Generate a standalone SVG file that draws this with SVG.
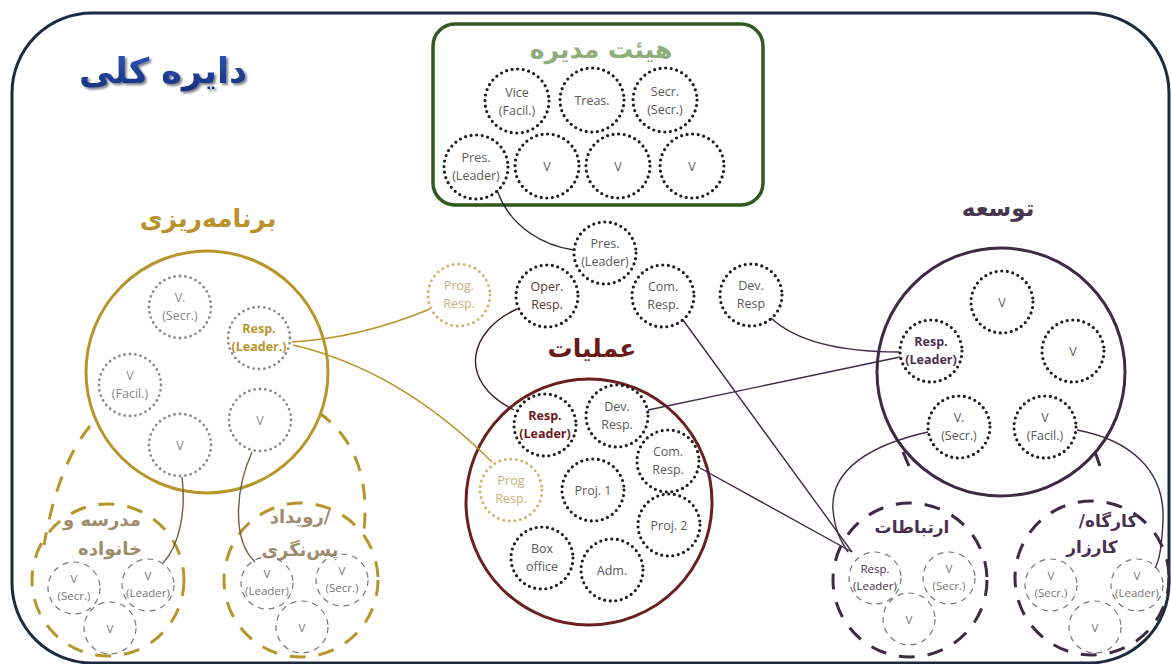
<svg xmlns="http://www.w3.org/2000/svg" width="1171" height="664" viewBox="0 0 1171 664">
<defs>
<filter id="sh" x="-10%" y="-10%" width="130%" height="140%"><feDropShadow dx="2" dy="2" stdDeviation="1.2" flood-color="#0a1530" flood-opacity="0.55"/></filter>
<linearGradient id="bl" x1="0" y1="0" x2="0" y2="1"><stop offset="0" stop-color="#2d55b8"/><stop offset="1" stop-color="#16307a"/></linearGradient>
</defs>
<style>
.fa{font-family:"DejaVu Sans",sans-serif;font-weight:bold;text-anchor:middle}
.lb{font-family:"Open Sans","Liberation Sans",sans-serif;font-size:12.5px;fill:#5a5a5a;text-anchor:middle}
.sl{font-family:"Open Sans","Liberation Sans",sans-serif;font-size:11.5px;fill:#777;text-anchor:middle}
.dot{fill:none;stroke:#1e1e1e;stroke-width:3.2;stroke-dasharray:0 5.6;stroke-linecap:round}
.dotg{fill:none;stroke:#8a8a8a;stroke-width:2.8;stroke-dasharray:0 5.4;stroke-linecap:round}
.doty{fill:none;stroke:#c9b66a;stroke-width:3;stroke-dasharray:0 5.6;stroke-linecap:round}
.sub{fill:none;stroke:#777;stroke-width:1.2;stroke-dasharray:6 5}
.dg{fill:none;stroke:#b8952a;stroke-width:3;stroke-dasharray:16 13}
.dp{fill:none;stroke:#3f2a44;stroke-width:3;stroke-dasharray:16 13}
.cn{fill:none;stroke-width:1.4}
</style>
<rect id="frame" x="12" y="13" width="1157" height="650" rx="80" ry="80" fill="#fff" stroke="#1c2b3f" stroke-width="3"/>
<text id="title" class="fa" x="163" y="83" font-size="35" fill="url(#bl)" filter="url(#sh)">دایره کلی</text>

<g id="board">
<rect x="433" y="24" width="330" height="181" rx="22" fill="#fff" stroke="#2f5a1f" stroke-width="3.5"/>
<text class="fa" x="601" y="58" font-size="25" fill="#8db07a">هیئت مدیره</text>
<circle class="dot" cx="517" cy="101" r="32"/><text class="lb" x="517" y="97">Vice</text><text class="lb" x="517" y="115">(Facil.)</text>
<circle class="dot" cx="592" cy="100" r="32"/><text class="lb" x="592" y="105">Treas.</text>
<circle class="dot" cx="665" cy="100" r="32"/><text class="lb" x="665" y="96">Secr.</text><text class="lb" x="665" y="114">(Secr.)</text>
<circle class="dot" cx="476" cy="167" r="32"/><text class="lb" x="476" y="162">Pres.</text><text class="lb" x="476" y="180">(Leader)</text>
<circle class="dot" cx="547" cy="166" r="32"/><text class="lb" x="547" y="171">V</text>
<circle class="dot" cx="618" cy="166" r="32"/><text class="lb" x="618" y="171">V</text>
<circle class="dot" cx="692" cy="166" r="32"/><text class="lb" x="692" y="171">V</text>
</g>

<g id="center-links">
<circle class="dot" cx="605" cy="253" r="31"/><text class="lb" x="605" y="248">Pres.</text><text class="lb" x="605" y="266">(Leader)</text>
<circle class="doty" cx="459" cy="295" r="31"/><text class="lb" x="459" y="290" style="fill:#c4b378">Prog.</text><text class="lb" x="459" y="308" style="fill:#c4b378">Resp.</text>
<circle class="dot" cx="547" cy="296" r="31"/><text class="lb" x="547" y="291" style="fill:#5a3a3a">Oper.</text><text class="lb" x="547" y="309" style="fill:#5a3a3a">Resp.</text>
<circle class="dot" cx="663" cy="296" r="31"/><text class="lb" x="663" y="291">Com.</text><text class="lb" x="663" y="309">Resp.</text>
<circle class="dot" cx="751" cy="295" r="31"/><text class="lb" x="751" y="290">Dev.</text><text class="lb" x="751" y="308">Resp</text>
</g>

<g id="planning-subs">
<circle class="dg" cx="108" cy="580" r="76"/>
<path class="dg" d="M90,426 Q58,465 44,545"/>
<text class="fa" x="102" y="526" font-size="18" fill="#9c8c6c">مدرسه و</text>
<text class="fa" x="110" y="555" font-size="18" fill="#9c8c6c">خانواده</text>
<circle class="sub" cx="74" cy="588" r="26"/><text class="sl" x="74" y="583">V</text><text class="sl" x="74" y="600">(Secr.)</text>
<circle class="sub" cx="148" cy="585" r="26"/><text class="sl" x="148" y="580">V</text><text class="sl" x="148" y="597">(Leader)</text>
<circle class="sub" cx="110" cy="628" r="26"/><text class="sl" x="110" y="633">V</text>
<circle class="dg" cx="301" cy="580" r="77"/>
<path class="dg" d="M318,412 Q372,450 364,530"/>
<text class="fa" x="300" y="523" font-size="18" fill="#9c8c6c">رویداد/</text>
<text class="fa" x="300" y="556" font-size="18" fill="#9c8c6c">پس‌نگری</text>
<circle class="sub" cx="267" cy="583" r="26"/><text class="sl" x="267" y="578">V</text><text class="sl" x="267" y="595">(Leader)</text>
<circle class="sub" cx="342" cy="580" r="26"/><text class="sl" x="342" y="575">V</text><text class="sl" x="342" y="592">(Secr.)</text>
<circle class="sub" cx="302" cy="627" r="26"/><text class="sl" x="302" y="632">V</text>
</g>

<g id="planning">
<circle cx="207" cy="372" r="121" fill="#fff" stroke="#b8952a" stroke-width="3"/>
<text class="fa" x="208" y="227" font-size="25" fill="#b8912a">برنامه‌ریزی</text>
<circle class="dotg" cx="180" cy="307" r="31"/><text class="lb" x="180" y="302" style="fill:#8a8a8a">V.</text><text class="lb" x="180" y="320" style="fill:#8a8a8a">(Secr.)</text>
<circle class="dotg" cx="259" cy="338" r="31"/><text class="lb" x="259" y="333" style="fill:#b8952a;font-weight:bold">Resp.</text><text class="lb" x="259" y="351" style="fill:#b8952a;font-weight:bold">(Leader.)</text>
<circle class="dotg" cx="130" cy="385" r="31"/><text class="lb" x="130" y="380" style="fill:#8a8a8a">V</text><text class="lb" x="130" y="398" style="fill:#8a8a8a">(Facil.)</text>
<circle class="dotg" cx="260" cy="420" r="31"/><text class="lb" x="260" y="425" style="fill:#8a8a8a">V</text>
<circle class="dotg" cx="180" cy="445" r="31"/><text class="lb" x="180" y="450" style="fill:#8a8a8a">V</text>
</g>

<g id="operations">
<circle cx="589" cy="502" r="123" fill="#fff" stroke="#6b1f1f" stroke-width="3"/>
<text class="fa" x="592" y="357" font-size="25" fill="#6b1a1a">عملیات</text>
<circle class="dot" cx="545" cy="425" r="31"/><text class="lb" x="545" y="420" style="fill:#6b1a1a;font-weight:bold">Resp.</text><text class="lb" x="545" y="438" style="fill:#6b1a1a;font-weight:bold">(Leader)</text>
<circle class="dot" cx="617" cy="416" r="31"/><text class="lb" x="617" y="411">Dev.</text><text class="lb" x="617" y="429">Resp.</text>
<circle class="dot" cx="668" cy="461" r="31"/><text class="lb" x="668" y="456">Com.</text><text class="lb" x="668" y="474">Resp.</text>
<circle class="doty" cx="511" cy="490" r="31"/><text class="lb" x="511" y="485" style="fill:#c4b378">Prog</text><text class="lb" x="511" y="503" style="fill:#c4b378">Resp.</text>
<circle class="dot" cx="593" cy="490" r="31"/><text class="lb" x="593" y="495">Proj. 1</text>
<circle class="dot" cx="669" cy="525" r="31"/><text class="lb" x="669" y="530">Proj. 2</text>
<circle class="dot" cx="542" cy="558" r="31"/><text class="lb" x="542" y="553">Box</text><text class="lb" x="542" y="571">office</text>
<circle class="dot" cx="612" cy="570" r="31"/><text class="lb" x="612" y="575">Adm.</text>
</g>

<g id="development-subs">
<circle class="dp" cx="910" cy="580" r="77"/>
<text class="fa" x="912" y="533" font-size="17" fill="#4a3050">ارتباطات</text>
<circle class="sub" cx="875" cy="578" r="26"/><text class="sl" x="875" y="573" style="fill:#4a3050">Resp.</text><text class="sl" x="875" y="590" style="fill:#4a3050">(Leader)</text>
<circle class="sub" cx="949" cy="578" r="26"/><text class="sl" x="949" y="573">V</text><text class="sl" x="949" y="590">(Secr.)</text>
<circle class="sub" cx="909" cy="619" r="26"/><text class="sl" x="909" y="624">V</text>
<circle class="dp" cx="1092" cy="578" r="77"/>
<text class="fa" x="1108" y="527" font-size="17" fill="#4a3050" direction="rtl">کارگاه/</text>
<text class="fa" x="1092" y="553" font-size="17" fill="#4a3050">کارزار</text>
<circle class="sub" cx="1051" cy="585" r="26"/><text class="sl" x="1051" y="580">V</text><text class="sl" x="1051" y="597">(Secr.)</text>
<circle class="sub" cx="1137" cy="585" r="26"/><text class="sl" x="1137" y="580">V</text><text class="sl" x="1137" y="597">(Leader)</text>
<circle class="sub" cx="1095" cy="627" r="26"/><text class="sl" x="1095" y="632">V</text>
<path d="M903,452 L909,466 M1095,452 L1100,466" stroke="#3f2a44" stroke-width="3" fill="none"/>
</g>

<g id="development">
<circle cx="1001" cy="372" r="124" fill="#fff" stroke="#3f2a44" stroke-width="3"/>
<text class="fa" x="998" y="216" font-size="23" fill="#4a3550">توسعه</text>
<circle class="dot" cx="1002" cy="302" r="31"/><text class="lb" x="1002" y="307">V</text>
<circle class="dot" cx="1073" cy="351" r="31"/><text class="lb" x="1073" y="356">V</text>
<circle class="dot" cx="931" cy="351" r="31"/><text class="lb" x="931" y="346" style="fill:#4a3050;font-weight:bold">Resp.</text><text class="lb" x="931" y="364" style="fill:#4a3050;font-weight:bold">(Leader)</text>
<circle class="dot" cx="959" cy="427" r="31"/><text class="lb" x="959" y="422">V.</text><text class="lb" x="959" y="440">(Secr.)</text>
<circle class="dot" cx="1045" cy="427" r="31"/><text class="lb" x="1045" y="422">V</text><text class="lb" x="1045" y="440">(Facil.)</text>
</g>

<g id="connectors">
<path class="cn" stroke="#2a2a2a" d="M497,190 C510,228 545,246 574,250"/>
<path class="cn" stroke="#b8952a" d="M292,342 Q360,338 430,309"/>
<path class="cn" stroke="#b8952a" d="M293,345 Q400,370 492,462"/>
<path class="cn" stroke="#3a1a1a" d="M517,309 C470,330 455,380 514,410"/>
<path class="cn" stroke="#3f2a44" d="M771,318 C800,345 850,352 899,352"/>
<path class="cn" stroke="#3f2a44" d="M648,410 L900,357"/>
<path class="cn" stroke="#3f2a44" d="M683,320 L852,552"/>
<path class="cn" stroke="#3f2a44" d="M700,468 L852,552"/>
<path class="cn" stroke="#3f2a44" d="M928,432 C870,445 830,470 833,510 C835,530 840,540 848,552"/>
<path class="cn" stroke="#3f2a44" d="M1077,430 C1130,440 1165,470 1163,520 C1162,545 1160,560 1155,568"/>
<path class="cn" stroke="#6e6040" d="M252,452 C235,490 232,540 255,562"/>
<path class="cn" stroke="#6e6040" d="M182,477 C186,510 180,545 163,563"/>
</g>
</svg>
